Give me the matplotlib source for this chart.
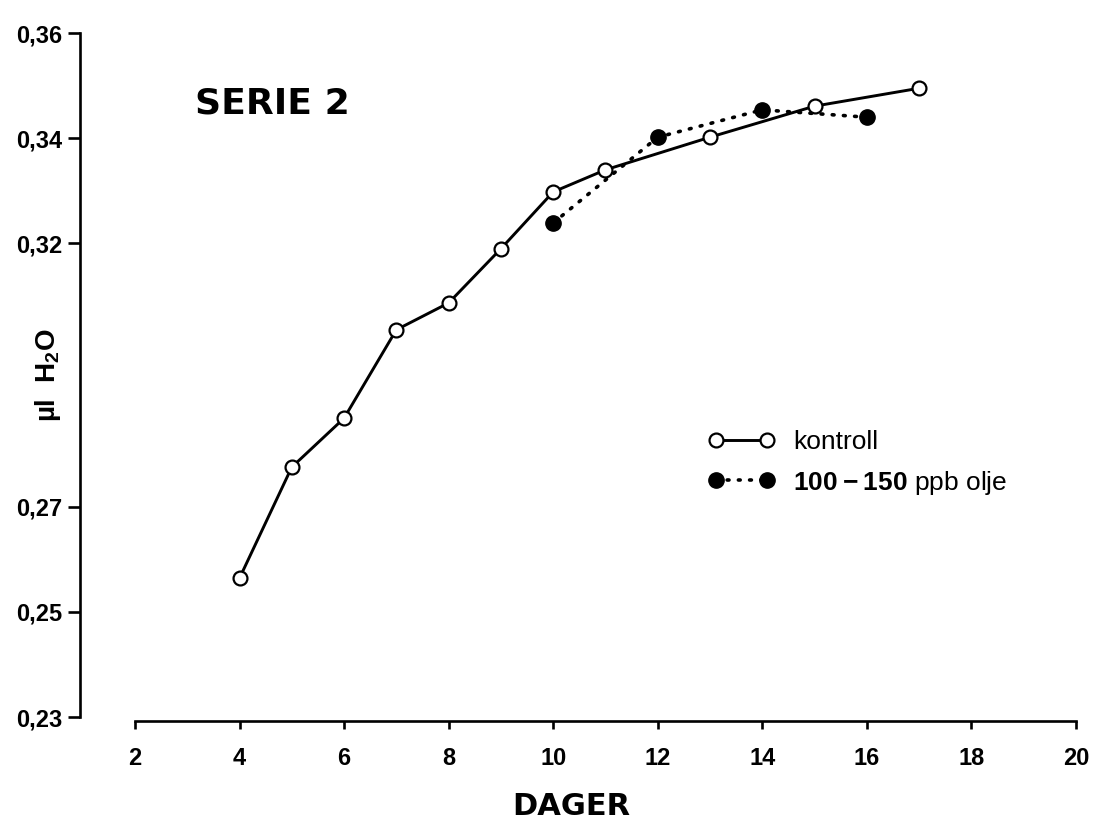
import matplotlib.pyplot as plt
from matplotlib.lines import Line2D

plt.rcParams["font.family"] = ["Liberation Sans", "DejaVu Sans"]
plt.rcParams["mathtext.fontset"] = "custom"
plt.rcParams["mathtext.rm"] = "Liberation Sans"
plt.rcParams["mathtext.bf"] = "Liberation Sans:bold"

# kontroll (open circles)
dager_kontroll = [4, 5, 6, 7, 8, 9, 10, 11, 13, 15, 17]
h2o_kontroll = [0.2564, 0.2775, 0.2868, 0.3036, 0.3087, 0.3190,
                0.3298, 0.3340, 0.3402, 0.3461, 0.3495]

# 100-150 ppb olje (filled circles)
dager_olje = [10, 12, 14, 16]
h2o_olje = [0.3239, 0.3402, 0.3454, 0.3440]

xticks = [2, 4, 6, 8, 10, 12, 14, 16, 18, 20]
yticks = [0.23, 0.25, 0.27, 0.32, 0.34, 0.36]
ytick_labels = ["0,23", "0,25", "0,27", "0,32", "0,34", "0,36"]

fig = plt.figure(figsize=(10.94, 8.23), dpi=100)
ax = fig.add_axes([0.0731, 0.1239, 0.9104, 0.836])

ax.plot(dager_kontroll, h2o_kontroll, color="black", linewidth=2.1,
        marker="o", markersize=10, markerfacecolor="white",
        markeredgecolor="black", markeredgewidth=1.6, clip_on=False, zorder=3)
ax.plot(dager_olje, h2o_olje, color="black", linewidth=2.6,
        linestyle=(0, (0.5, 2.6)), dash_capstyle="round",
        marker="o", markersize=11, markerfacecolor="black",
        markeredgecolor="black", clip_on=False, zorder=2)

ax.set_xlim(0.948, 20.0)
ax.set_ylim(0.22925, 0.36)

ax.spines["top"].set_visible(False)
ax.spines["right"].set_visible(False)
ax.spines["left"].set_bounds(0.23, 0.36)
ax.spines["bottom"].set_bounds(2, 20)
ax.spines["left"].set_linewidth(1.9)
ax.spines["bottom"].set_linewidth(1.9)

ax.set_xticks(xticks)
ax.set_xticklabels([str(t) for t in xticks], fontsize=17, fontweight="bold")
ax.set_yticks(yticks)
ax.set_yticklabels(ytick_labels, fontsize=17, fontweight="bold")
ax.tick_params(axis="x", direction="out", length=5.8, width=1.9, pad=13)
ax.tick_params(axis="y", direction="out", length=8.6, width=1.9, pad=4)

ax.set_xlabel("DAGER", fontsize=22, fontweight="bold", family="DejaVu Sans")
ax.xaxis.set_label_coords(0.493, -0.124)
ax.xaxis.label.set_va("center")
ax.set_ylabel(r"µl  H$_\mathbf{2}$O", fontsize=20, fontweight="bold")
ax.yaxis.set_label_coords(-0.032, 0.503)
ax.yaxis.label.set_va("center")

ax.text(0.1155, 0.897, "SERIE 2", transform=ax.transAxes, fontsize=26,
        fontweight="bold", family="DejaVu Sans", ha="left", va="center")

handles = [
    Line2D([], [], color="black", linewidth=2.1, marker="o", markersize=10,
           markerfacecolor="white", markeredgecolor="black", markeredgewidth=1.6),
    Line2D([], [], color="black", linewidth=2.6, linestyle=(0, (0.5, 2.6)),
           dash_capstyle="round", marker="o", markersize=11,
           markerfacecolor="black", markeredgecolor="black"),
]
labels = ["kontroll", r"$\mathbf{100-150}$ ppb olje"]
ax.legend(handles, labels, loc="upper left", bbox_to_anchor=(0.6305, 0.423),
          frameon=False, numpoints=2, handlelength=2.53, handletextpad=0.7,
          labelspacing=0.55, borderpad=0, borderaxespad=0, fontsize=19)

fig.savefig("out.png", dpi=100)
